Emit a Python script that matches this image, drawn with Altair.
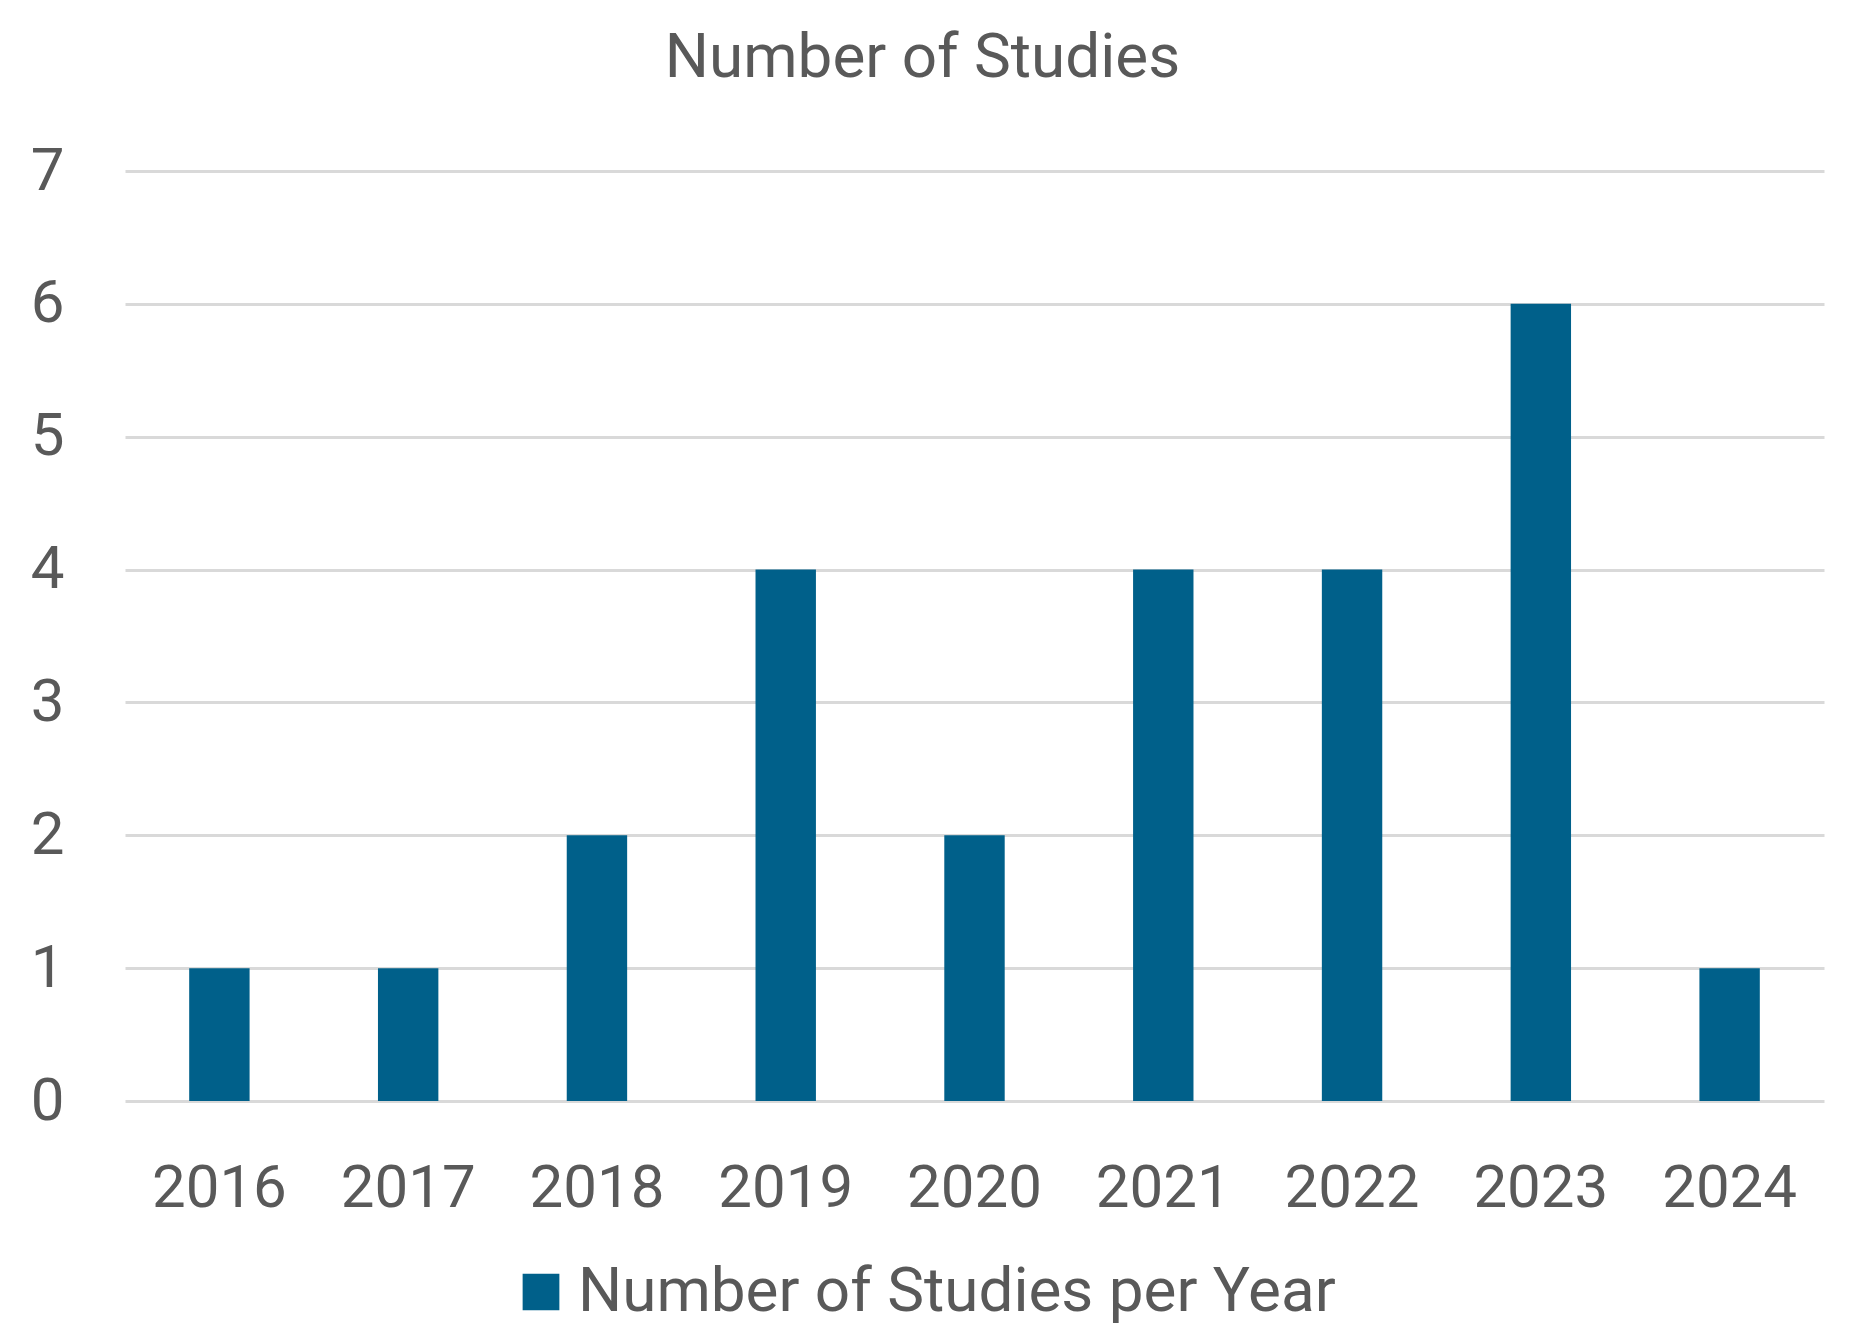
import altair as alt
import pandas as pd

years = ["2016", "2017", "2018", "2019", "2020", "2021", "2022", "2023", "2024"]
counts = [1, 1, 2, 4, 2, 4, 4, 6, 1]
series_name = "Number of Studies per Year"
y_ticks = [0, 1, 2, 3, 4, 5, 6, 7]

df = pd.DataFrame({"year": years, "count": counts, "series": [series_name] * len(years)})

TEXT = "#595959"
BAR = "#00608A"
FONT = "Roboto"

chart = (
    alt.Chart(df)
    .mark_bar(color=BAR)
    .encode(
        x=alt.X(
            "year:N",
            sort=years,
            scale=alt.Scale(paddingInner=0.68, paddingOuter=0.34),
            axis=alt.Axis(
                title=None, labelAngle=0, labelFontSize=60, labelColor=TEXT, labelFont=FONT,
                labelPadding=58, domain=False, ticks=False, grid=False,
            ),
        ),
        y=alt.Y(
            "count:Q",
            scale=alt.Scale(domain=[0, 7], nice=False),
            axis=alt.Axis(
                title=None, values=y_ticks, labelFontSize=60, labelColor=TEXT, labelFont=FONT,
                labelPadding=61, domain=False, ticks=False, grid=True,
                gridColor="#D9D9D9", gridWidth=3,
            ),
        ),
        color=alt.Color(
            "series:N",
            scale=alt.Scale(range=[BAR]),
            legend=alt.Legend(
                title=None, orient="none", legendX=385, legendY=1090,
                symbolType="square", symbolSize=1350, symbolStrokeWidth=0,
                labelFontSize=62, labelColor=TEXT, labelFont=FONT, labelOffset=6,
                labelLimit=2000, symbolOpacity=1,
            ),
        ),
    )
    .properties(
        width=1699,
        height=930,
        padding={"left": 117, "top": 163, "right": 20, "bottom": 230},
        autosize=alt.AutoSizeParams(type="none"),
        title=alt.TitleParams(
            "Number of Studies", fontSize=62, font=FONT, fontWeight="normal",
            color=TEXT, anchor="middle", dx=-52, offset=51,
        ),
    )
    .configure_view(stroke=None)
)

chart.save("out.html", embed_options={"renderer": "svg", "actions": False})
